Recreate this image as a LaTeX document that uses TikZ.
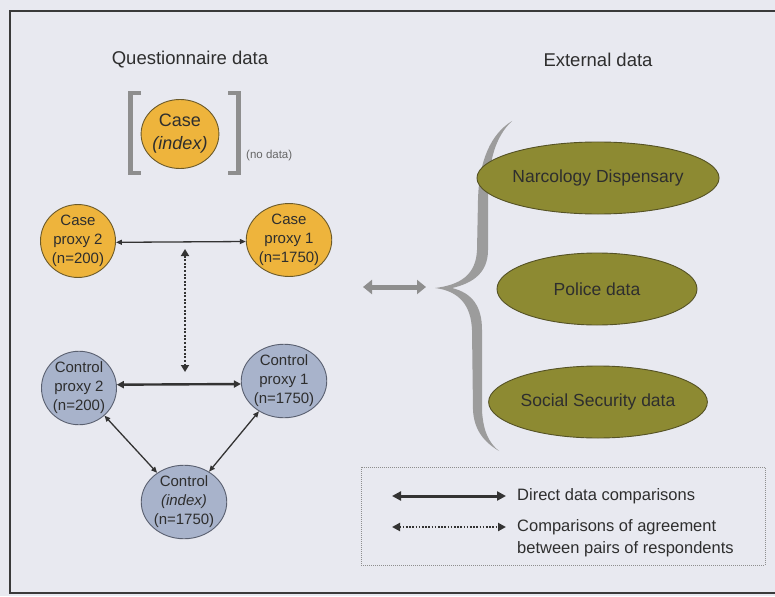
\documentclass[tikz,border=0pt]{standalone}
\usepackage{fontspec}
\setmainfont{Liberation Sans}
\usetikzlibrary{shapes.geometric,arrows.meta}

\definecolor{pagebg}{HTML}{E8E9F0}
\definecolor{frameink}{HTML}{3A3A3A}
\definecolor{titleink}{HTML}{2E2E2E}
\definecolor{casefill}{HTML}{EEB43C}
\definecolor{caseline}{HTML}{6B5A2A}
\definecolor{ctrlfill}{HTML}{A8B3CB}
\definecolor{ctrlline}{HTML}{5A6070}
\definecolor{olivefill}{HTML}{8D8A32}
\definecolor{oliveline}{HTML}{555225}
\definecolor{arrowink}{HTML}{333333}
\definecolor{softgray}{HTML}{8E8E8E}

\begin{document}
\begin{tikzpicture}[x=1pt,y=-1pt,
  title/.style={text=titleink,font=\fontsize{18.5}{22}\selectfont},
  bubble/.style={ellipse,line width=0.9pt,inner sep=0,align=center,text=titleink,
    minimum width=75,minimum height=69,font=\fontsize{15}{19}\selectfont},
  casebub/.style={bubble,fill=casefill,draw=caseline},
  ctrlbub/.style={bubble,fill=ctrlfill,draw=ctrlline},
  extbub/.style={ellipse,fill=olivefill,draw=oliveline,line width=0.9pt,inner sep=0,
    minimum width=200,minimum height=72,text=titleink,font=\fontsize{17.5}{21}\selectfont},
  direct/.style={draw=arrowink,line width=1.3pt,{Triangle[length=6pt,width=5pt]}-{Triangle[length=6pt,width=5pt]}},
  directthick/.style={draw=arrowink,line width=2.4pt,{Triangle[length=7pt,width=7pt]}-{Triangle[length=7pt,width=7pt]}},
  agree/.style={draw=arrowink,line width=2.2pt,dash pattern=on 2pt off 1.6pt,
    {Triangle[length=7pt,width=8pt]}-{Triangle[length=7pt,width=8pt]}},
  legsolid/.style={draw=arrowink,line width=3pt,{Triangle[length=9pt,width=9pt]}-{Triangle[length=9pt,width=9pt]}},
  legdotted/.style={draw=arrowink,line width=2pt,dash pattern=on 1.6pt off 1.6pt,
    {Triangle[length=8pt,width=8pt]}-{Triangle[length=8pt,width=8pt]}},
  linkarrow/.style={draw=softgray,line width=5pt,{Triangle[length=9pt,width=14pt]}-{Triangle[length=9pt,width=14pt]}},
  bracket/.style={draw=softgray,line width=4.5pt,line cap=butt,line join=miter},
  legendbox/.style={draw=softgray,line width=0.8pt,dash pattern=on 1pt off 1pt,inner sep=0}
]
% page background
\fill[pagebg] (0,0) rectangle (775,596);
\useasboundingbox (0,0) rectangle (775,596);

% frame
\draw[frameink,line width=2pt] (780,11) -- (10,11) -- (10,593) -- (780,593);

% titles
\node[title] (qtitle) at (190,60) {Questionnaire data};
\node[title] (etitle) at (598,60) {External data};

% index case, bracketed
\draw[bracket] (141,93) -- (130.5,93) -- (130.5,173) -- (141,173);
\draw[bracket] (228,93) -- (238.5,93) -- (238.5,173) -- (228,173);
\node[casebub,minimum width=64,minimum height=69,font=\fontsize{18}{23}\selectfont] (cidx) at (180,134) {Case\\\textit{(index)}};
\node[anchor=west,text=black!60,inner sep=0,font=\fontsize{11.5}{13}\selectfont] (nodata) at (246,156) {(no data)};

% proxy respondents
\node[casebub] (cp2) at (78,241) {Case\\proxy 2\\(n=200)};
\node[casebub] (cp1) at (289,240) {Case\\proxy 1\\(n=1750)};
\node[ctrlbub] (tp2) at (79,388) {Control\\proxy 2\\(n=200)};
\node[ctrlbub] (tp1) at (284,381) {Control\\proxy 1\\(n=1750)};
\node[ctrlbub,minimum width=72,minimum height=70] (tidx) at (184,502) {Control\\\textit{(index)}\\(n=1750)};

\draw[direct] (cp2.-2) -- (cp1.-178);
\draw[directthick] (tp2.5) -- (tp1.-176);
\draw[direct] (tp2) -- (tidx);
\draw[direct] (tp1) -- (tidx);

\coordinate (dtop) at (185,249);
\coordinate (dbot) at (185,372);
\draw[agree] (dtop) -- (dbot);

% link to the external sources
\coordinate (ga) at (363,287);
\coordinate (gb) at (426,287);
\draw[linkarrow] (ga) -- (gb);

% curly brace
\fill[softgray!88!white]
  (512,121) .. controls (491,134) and (479,160) .. (478,200) -- (477,250)
  .. controls (476,275) and (460,285) .. (435,288)
  .. controls (459,291) and (471,305) .. (472,330) -- (473,410)
  .. controls (474,430) and (484,442) .. (499,451)
  .. controls (489,443) and (483,431) .. (482,410) -- (482,330)
  .. controls (482,306) and (472,293) .. (452,288)
  .. controls (474,283) and (488,272) .. (488,250) -- (488,200)
  .. controls (488,160) and (496,136) .. (512,121) -- cycle;

% external data sources
\node[extbub] (narc) at (598,178) {Narcology Dispensary};
\node[extbub] (police) at (597,289) {Police data};
\node[extbub] (social) at (598,402) {Social Security data};

% legend
\node[legendbox,minimum width=404,minimum height=98] (legend) at (563,516) {};
\coordinate (la1) at (392,496);
\coordinate (lb1) at (506,496);
\coordinate (la2) at (392,527);
\coordinate (lb2) at (506,527);
\draw[legsolid] (la1) -- (lb1);
\draw[legdotted] (la2) -- (lb2);
\node[anchor=west,text=titleink,inner sep=0,font=\fontsize{16.5}{22}\selectfont] (lt1) at (517,496) {Direct data comparisons};
\node[anchor=west,align=left,text=titleink,inner sep=0,font=\fontsize{16.5}{22}\selectfont] (lt2) at (517,538) {Comparisons of agreement\\between pairs of respondents};
\end{tikzpicture}
\end{document}
